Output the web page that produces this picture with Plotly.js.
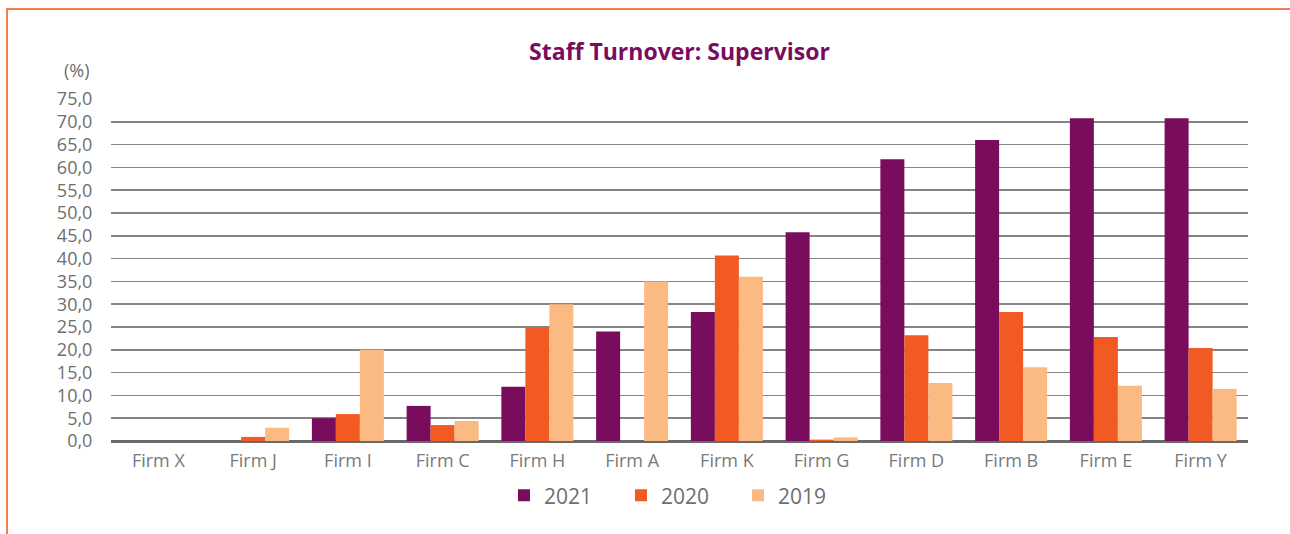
<!DOCTYPE html>
<html>
<head>
<meta charset="utf-8">
<script src="https://cdn.plot.ly/plotly-3.0.1.min.js"></script>
<style>
html,body{margin:0;padding:0;background:#fff;}
#wrap{position:relative;width:1290px;height:534px;overflow:hidden;}
#chart{position:absolute;left:0;top:0;width:1290px;height:534px;}
#frame{position:absolute;left:6px;top:8px;width:1290px;height:540px;border-top:2px solid #f47c4f;border-left:2px solid #f47c4f;pointer-events:none;}
</style>
</head>
<body>
<div id="wrap"><div id="chart"></div><div id="frame"></div></div>
<script>
const categories = ["Firm X","Firm J","Firm I","Firm C","Firm H","Firm A","Firm K","Firm G","Firm D","Firm B","Firm E","Firm Y"];
const seriesNames = ["2021","2020","2019"];
const values2021 = [0, 0, 5.0, 7.7, 11.9, 24.0, 28.3, 45.8, 61.8, 66.0, 70.8, 70.8];
const values2020 = [0, 0.9, 5.9, 3.5, 24.9, 0, 40.7, 0.3, 23.2, 28.3, 22.8, 20.4];
const values2019 = [0, 2.9, 20.0, 4.4, 30.0, 35.0, 36.0, 0.8, 12.7, 16.2, 12.1, 11.4];
const tickValues = [0,5,10,15,20,25,30,35,40,45,50,55,60,65,70,75];
const colors = ["#7a0c5d","#f15a22","#fbba82"];

const font = "'Open Sans', 'DejaVu Sans', sans-serif";
const allValues = [values2021, values2020, values2019];
const traces = allValues.map((v,i)=>({
  type:'bar', name:seriesNames[i], x:categories, y:v,
  marker:{color:colors[i], line:{width:0}}, hoverinfo:'x+y'
}));

const layout = {
  width:1290, height:534,
  margin:{l:111, r:42, t:99, b:93, pad:0},
  paper_bgcolor:'rgba(0,0,0,0)', plot_bgcolor:'#fff',
  separators:',.',
  barmode:'group', bargap:0.24, bargroupgap:0,
  title:{text:'<b>Staff Turnover: Supervisor</b>', x:0.5, xref:'paper', xanchor:'center',
         y:1-52/534, yanchor:'middle', font:{family:font, size:23, color:'#7a0c5d'}},
  xaxis:{type:'category', tickfont:{family:font, size:18, color:'#7a7a7a'},
         showgrid:false, showline:false, zeroline:false, ticks:'outside', ticklen:3, tickcolor:'rgba(0,0,0,0)'},
  yaxis:{range:[0,75], tickvals:tickValues, tickformat:'.1f',
         tickfont:{family:font, size:18, color:'#6e6e6e'},
         showgrid:true, gridcolor:'#858585', gridwidth:1.6,
         zeroline:true, zerolinecolor:'#6a6a6a', zerolinewidth:3,
         showline:false, ticks:'outside', tickcolor:'rgba(0,0,0,0)', ticklen:14},
  showlegend:true,
  legend:{orientation:'h', x:0.5, xanchor:'center', y:-0.16, yanchor:'middle',
          font:{family:font, size:21, color:'#6e6e6e'}, itemwidth:30, entrywidth:72,
          traceorder:'normal', bgcolor:'rgba(0,0,0,0)'},
  annotations:[{text:'(%)', xref:'paper', yref:'paper', x:(77-111)/1137, y:(441.5-70)/342,
                xanchor:'center', yanchor:'middle', showarrow:false,
                font:{family:font, size:18, color:'#6e6e6e'}}]
};
Plotly.newPlot('chart', traces, layout, {displayModeBar:false, staticPlot:true});
</script>
</body>
</html>
